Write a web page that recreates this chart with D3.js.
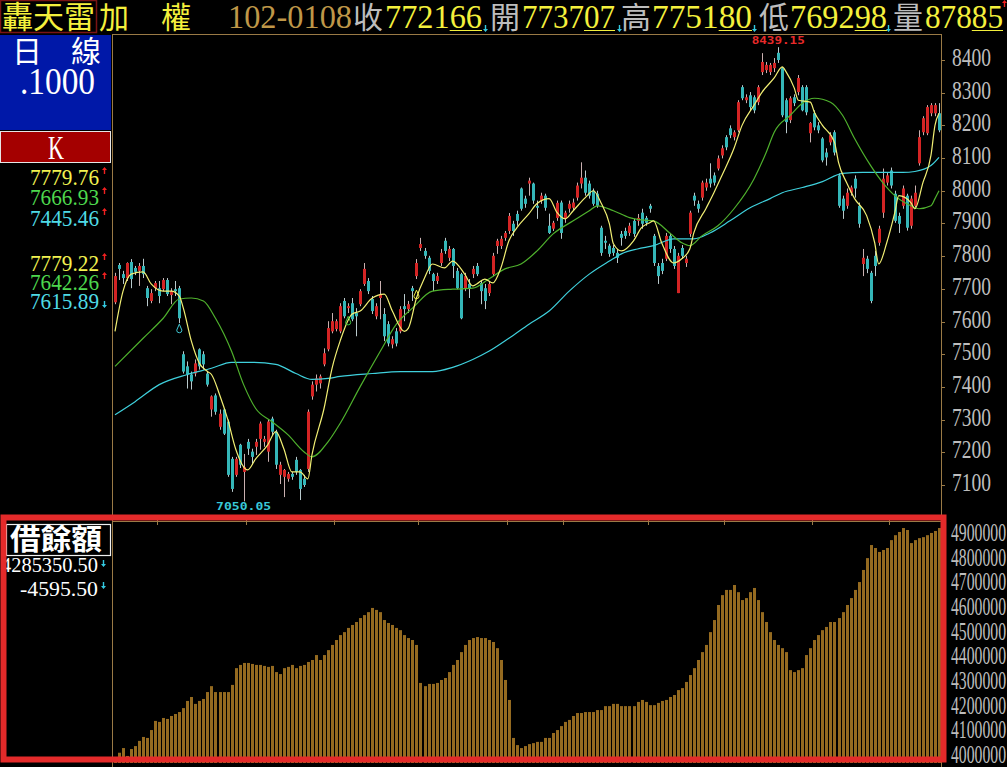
<!DOCTYPE html>
<html><head><meta charset="utf-8">
<script src="https://cdn.jsdelivr.net/npm/d3@7"></script>
<style>html,body{margin:0;padding:0;background:#000;overflow:hidden}svg{display:block}</style>
</head><body><svg id="c" width="1007" height="767"></svg>
<script>
// ---------------- DATA ----------------
const ohlc = [
[7659,7749,7653,7739],[7773,7779,7727,7761],[7745,7755,7715,7733],[7733,7781,7724,7779],[7782,7791,7702,7730],
[7764,7770,7742,7752],[7755,7779,7709,7770],[7770,7792,7733,7745],[7702,7709,7647,7672],[7663,7699,7656,7687],
[7702,7724,7693,7718],[7702,7724,7656,7678],[7699,7733,7693,7727],[7727,7733,7678,7684],[7681,7702,7653,7693],
[7699,7724,7678,7693],[7702,7709,7595,7610],[7500,7509,7441,7447],[7463,7478,7395,7438],[7438,7447,7392,7417],
[7441,7484,7432,7472],[7515,7518,7453,7463],[7500,7509,7453,7469],[7441,7447,7401,7407],[7331,7374,7309,7371],
[7374,7380,7315,7324],[7278,7331,7269,7318],[7331,7334,7253,7257],[7294,7300,7125,7131],[7180,7186,7079,7088],
[7131,7186,7125,7180],[7223,7226,7152,7162],[7140,7195,7050.05,7155],[7232,7241,7192,7211],[7202,7211,7162,7186],
[7217,7241,7192,7232],[7241,7294,7208,7288],[7232,7250,7217,7241],[7202,7300,7171,7294],[7303,7309,7253,7263],
[7263,7269,7149,7162],[7131,7171,7103,7162],[7125,7149,7063,7146],[7119,7140,7110,7134],[7134,7140,7116,7125],
[7177,7186,7131,7140],[7146,7149,7054,7088],[7119,7131,7094,7100],[7149,7331,7140,7324],[7371,7417,7361,7407],
[7407,7438,7386,7426],[7411,7438,7395,7432],[7469,7518,7463,7503],[7515,7601,7509,7580],[7570,7626,7564,7601],
[7577,7607,7570,7601],[7570,7656,7564,7647],[7663,7672,7610,7616],[7641,7656,7626,7647],[7656,7672,7601,7607],
[7626,7641,7555,7616],[7653,7699,7647,7693],[7715,7779,7709,7761],[7724,7733,7684,7693],[7669,7678,7623,7632],
[7616,7656,7607,7647],[7672,7724,7607,7684],[7623,7641,7540,7555],[7592,7601,7524,7533],[7530,7555,7518,7546],
[7570,7580,7524,7533],[7570,7647,7564,7638],[7647,7684,7601,7638],[7638,7663,7626,7653],[7702,7709,7663,7693],
[7739,7791,7730,7779],[7825,7856,7816,7837],[7816,7825,7792,7801],[7795,7801,7745,7755],[7745,7749,7693,7724],
[7724,7749,7715,7739],[7779,7822,7770,7810],[7847,7856,7807,7816],[7795,7831,7785,7822],[7822,7825,7733,7770],
[7755,7764,7699,7702],[7745,7749,7607,7610],[7702,7749,7693,7739],[7715,7730,7672,7702],[7745,7770,7733,7761],
[7770,7779,7739,7745],[7718,7724,7653,7693],[7702,7715,7638,7663],[7687,7724,7678,7715],[7745,7810,7739,7801],
[7831,7853,7807,7847],[7831,7862,7822,7853],[7856,7877,7847,7871],[7877,7932,7868,7923],[7899,7908,7862,7877],
[7929,7939,7893,7908],[8007,8010,7939,7945],[7976,7985,7948,7960],[8022,8040,7985,8031],[8022,8025,7960,7970],
[7954,7970,7914,7948],[7970,7994,7960,7985],[7985,7991,7939,7948],[7893,7930,7868,7871],[7884,7908,7877,7902],
[7917,7970,7908,7963],[7964,7970,7853,7871],[7914,7939,7902,7933],[7945,7970,7933,7960],[7948,7976,7939,7964],
[7979,8025,7970,8016],[8022,8087,8007,8040],[8040,8062,7985,7994],[8022,8031,7976,7985],[8000,8007,7954,7960],
[7991,8000,7948,7954],[7887,7893,7801,7810],[7847,7862,7822,7841],[7832,7838,7798,7807],[7825,7834,7801,7810],
[7810,7822,7779,7795],[7868,7877,7832,7856],[7877,7887,7853,7862],[7871,7902,7862,7893],[7908,7914,7859,7868],
[7908,7929,7893,7917],[7933,7945,7884,7899],[7917,7923,7893,7902],[7954,7960,7933,7945],[7862,7868,7770,7779],
[7770,7779,7715,7739],[7779,7792,7745,7755],[7792,7871,7785,7862],[7862,7871,7810,7822],[7822,7831,7761,7770],
[7687,7810,7687,7801],[7825,7834,7792,7801],[7779,7801,7767,7792],[7868,7939,7859,7933],[7985,7994,7954,7970],
[7960,7970,7933,7945],[7979,8031,7970,8025],[8010,8037,8000,8025],[8037,8084,8010,8022],[8047,8056,8016,8025],
[8068,8108,8062,8099],[8108,8139,8099,8130],[8164,8170,8124,8133],[8191,8200,8161,8170],[8164,8185,8154,8179],
[8185,8277,8179,8271],[8317,8323,8277,8283],[8277,8295,8268,8286],[8292,8302,8246,8256],[8286,8292,8237,8246],
[8271,8323,8262,8317],[8363,8421,8354,8394],[8369,8394,8360,8385],[8363,8391,8354,8385],[8375,8406,8363,8391],
[8422,8439.15,8391,8400],[8375,8378,8225,8231],[8277,8283,8176,8210],[8216,8289,8207,8283],[8286,8295,8259,8268],
[8302,8354,8292,8345],[8317,8323,8243,8246],[8317,8323,8231,8240],[8176,8210,8148,8207],[8237,8246,8185,8194],
[8200,8210,8176,8185],[8160,8164,8087,8093],[8117,8130,8077,8102],[8148,8179,8139,8170],[8179,8185,8108,8117],
[8047,8053,7948,7954],[7976,7985,7914,7939],[7954,8007,7945,7994],[7994,8016,7985,8010],[8037,8047,7979,8007],
[7954,7964,7887,7899],[7776,7822,7739,7795],[7792,7801,7748,7761],[7749,7755,7656,7663],[7801,7816,7739,7770],
[7841,7893,7832,7884],[7933,8068,7917,8037],[8025,8056,8016,8047],[8062,8071,8007,8016],[7991,8000,7902,7908],
[7923,7933,7871,7899],[7954,8016,7945,8007],[7985,7991,7878,7887],[7893,7985,7884,7976],[7954,8016,7945,7994],
[8084,8185,8077,8164],[8179,8228,8170,8222],[8176,8262,8170,8256],[8237,8268,8228,8262],[8237,8268,8228,8262],
[8237,8268,8179,8185]
];
const openP  = ohlc.map(d => d[0]);
const highP  = ohlc.map(d => d[1]);
const lowP   = ohlc.map(d => d[2]);
const closeP = ohlc.map(d => d[3]);

// moving averages: [day index, value]
const maYellow = [[0,7570],[2,7693],[4,7745],[7,7752],[9,7715],[12,7693],[14,7693],[16,7678],[17,7641],[19,7540],[21,7472],[23,7447],[24,7438],[26,7377],[28,7303],[30,7211],[33,7146],[35,7180],[38,7223],[40,7263],[42,7211],[44,7140],[46,7140],[48,7119],[49,7192],[52,7334],[54,7457],[56,7540],[59,7623],[61,7632],[64,7672],[67,7684],[69,7632],[72,7570],[73,7580],[75,7672],[77,7733],[79,7776],[82,7764],[84,7785],[87,7745],[89,7709],[90,7715],[92,7730],[94,7718],[96,7764],[98,7847],[100,7887],[103,7930],[105,7961],[108,7976],[110,7933],[112,7914],[114,7939],[117,7979],[119,8000],[121,7961],[123,7899],[124,7838],[126,7816],[129,7847],[131,7887],[133,7902],[134,7908],[136,7841],[139,7779],[141,7792],[143,7822],[144,7871],[147,7945],[149,7994],[151,8047],[154,8130],[156,8200],[159,8262],[161,8302],[164,8345],[166,8379],[167,8363],[169,8314],[170,8277],[173,8271],[174,8240],[176,8200],[179,8148],[180,8087],[182,8025],[184,7976],[187,7924],[189,7841],[190,7776],[192,7841],[194,7933],[195,7985],[198,7964],[199,7945],[201,8025],[203,8108],[204,8200],[205,8237]];
const maGreen = [[0,7463],[7,7549],[12,7610],[16,7669],[19,7672],[22,7663],[25,7610],[29,7509],[32,7407],[35,7334],[39,7294],[43,7254],[47,7202],[49,7186],[53,7232],[56,7288],[61,7401],[66,7509],[70,7592],[74,7641],[79,7693],[84,7699],[89,7702],[93,7730],[97,7761],[101,7776],[105,7816],[109,7868],[114,7908],[118,7939],[120,7954],[124,7939],[128,7918],[131,7911],[134,7908],[138,7871],[141,7841],[143,7832],[146,7862],[150,7893],[154,7945],[159,8037],[162,8117],[164,8179],[168,8231],[171,8268],[174,8283],[178,8271],[181,8231],[184,8160],[188,8077],[191,8025],[194,7985],[198,7954],[200,7945],[203,7954],[204,7976],[205,8000]];
const maCyan = [[0,7315],[5,7355],[11,7407],[18,7438],[24,7457],[29,7475],[34,7475],[40,7469],[45,7441],[49,7423],[53,7426],[56,7432],[64,7441],[71,7447],[79,7447],[84,7460],[89,7484],[93,7509],[98,7549],[103,7592],[108,7632],[113,7693],[118,7745],[123,7785],[126,7807],[130,7822],[134,7832],[139,7853],[144,7853],[148,7871],[153,7908],[158,7948],[163,7976],[166,7994],[171,8010],[176,8028],[181,8053],[186,8056],[191,8056],[196,8056],[199,8059],[203,8077],[205,8102]];

// margin balance (thousands)
const margin = [3976,3997,4016,3984,4012,4024,4045,4061,4057,4089,4126,4122,4138,4134,4146,4154,4162,4178,4207,4223,
4195,4207,4215,4243,4267,4243,4243,4243,4243,4272,4340,4353,4361,4361,4357,4353,4353,4349,4345,4349,
4324,4316,4340,4345,4353,4340,4349,4353,4365,4373,4393,4373,4393,4413,4434,4454,4474,4486,4503,4515,
4527,4543,4555,4567,4584,4576,4567,4535,4523,4515,4503,4494,4474,4462,4454,4434,4280,4267,4276,4276,
4280,4292,4300,4324,4353,4373,4405,4434,4454,4462,4466,4462,4462,4454,4446,4421,4373,4292,4211,4057,
4028,4016,4024,4032,4036,4041,4041,4057,4057,4077,4089,4105,4122,4130,4146,4158,4158,4162,4162,4162,
4170,4170,4186,4186,4195,4195,4186,4186,4186,4186,4203,4211,4203,4190,4190,4199,4207,4211,4223,4231,
4251,4259,4284,4312,4340,4373,4405,4434,4486,4535,4596,4636,4657,4657,4677,4648,4616,4624,4648,4665,
4616,4567,4527,4486,4454,4434,4421,4405,4332,4324,4332,4340,4393,4421,4454,4474,4494,4507,4527,4527,
4543,4567,4596,4624,4657,4689,4738,4786,4839,4827,4811,4819,4827,4859,4879,4892,4908,4900,4847,4859,
4867,4871,4879,4888,4896,4908];

const priceTicks  = [8400,8300,8200,8100,8000,7900,7800,7700,7600,7500,7400,7300,7200,7100];
const marginTicks = [4900,4800,4700,4600,4500,4400,4300,4200,4100,4000];
const monthStarts = [11,33,55,76,98,112,133,152,174,193];
const markers = [{i:16,p:7592,c:"#3fc6d2"},{i:58,p:7616,c:"#3cc23c"},{i:75,p:7696,c:"#e8e840"}];
const maLegend1 = [["7779.76","#f2f250","up"],["7666.93","#4ed84e","up"],["7445.46","#4fdbe6","up"]];
const maLegend2 = [["7779.22","#f2f250","up"],["7642.26","#4ed84e","up"],["7615.89","#4fdbe6","down"]];
const quote = [["收","772166","66"],["開","773707","07"],["高","775180","80"],["低","769298","98"],["量","87885","85"]];
const hiLabel = "8439.15", loLabel = "7050.05";

// ---------------- DRAW ----------------
const svg = d3.select("#c");
const N = closeP.length;
const TAN = "#9a7a46", GRAY = "#bdbdbd", YEL = "#f4f03c";
const SERIF = "Liberation Serif", CJK = "'Noto Sans CJK TC','Noto Sans CJK SC',sans-serif";

svg.append("rect").attr("width",1007).attr("height",767).attr("fill","#000");

const xi = d3.scaleLinear().domain([0, N-1]).range([115, 939]);
const y  = d3.scaleLinear().domain([7100, 8400]).range([485, 60]);
const yb = d3.scaleLinear().domain([4000, 4900]).range([752, 530]);

function txt(x, yy, s, o) {
  const t = svg.append("text").attr("x", x).attr("y", yy).text(s)
    .attr("font-family", o.font || SERIF).attr("font-size", o.size).attr("fill", o.fill);
  if (o.len) t.attr("textLength", o.len).attr("lengthAdjust", "spacingAndGlyphs");
  if (o.weight) t.attr("font-weight", o.weight);
  if (o.anchor) t.attr("text-anchor", o.anchor);
  return t;
}
// one text element made of positioned runs
function runs(parent, list) {
  const t = parent.append("text");
  list.forEach(r => {
    const s = t.append("tspan").attr("x", r.x).attr("y", r.y).text(r.s)
      .attr("font-family", r.font || SERIF).attr("font-size", r.size).attr("fill", r.fill);
    if (r.len) s.attr("textLength", r.len).attr("lengthAdjust", "spacingAndGlyphs");
    if (r.weight) s.attr("font-weight", r.weight);
  });
  return t;
}
function arrow(x, yy, dir, color) {
  const p = dir === "up"
    ? `M${x+2.5},${yy} L${x+5},${yy+3} L${x+3.2},${yy+3} L${x+3.2},${yy+7} L${x+1.8},${yy+7} L${x+1.8},${yy+3} L${x},${yy+3} Z`
    : `M${x+2.5},${yy+7} L${x+5},${yy+4} L${x+3.2},${yy+4} L${x+3.2},${yy} L${x+1.8},${yy} L${x+1.8},${yy+4} L${x},${yy+4} Z`;
  svg.append("path").attr("d", p).attr("fill", color);
}

// ---- header ----
svg.append("rect").attr("x",0.5).attr("y",0.5).attr("width",96).attr("height",32)
  .attr("fill","none").attr("stroke","#7a1414").attr("stroke-width",1.5);
const hdr = [
  {x:2, y:28, s:"轟天雷", font:CJK, size:31, fill:YEL, len:93},
  {x:99, y:28, s:"加", font:CJK, size:30, fill:YEL},
  {x:161, y:28, s:"權", font:CJK, size:30, fill:YEL},
  {x:228, y:28, s:"102-0108", size:34, fill:"#bf9748", len:124}
];
const qx = [[353,385,97,483],[490,522,93,617],[621,652,100,752],[759,790,97,886],[893,925,78,1002]];
quote.forEach((q, k) => {
  const [cx, nx, nl] = qx[k];
  hdr.push({x:cx, y:28, s:q[0], font:CJK, size:30, fill:GRAY});
  hdr.push({x:nx, y:28, s:q[1], size:34, fill:YEL, len:nl});
});
runs(svg, hdr);
quote.forEach((q, k) => {
  const [cx, nx, nl, ax] = qx[k];
  const ul = nl * q[2].length / q[1].length;
  svg.append("line").attr("x1", nx + nl - ul).attr("x2", nx + nl).attr("y1", 30.5).attr("y2", 30.5)
    .attr("stroke", YEL).attr("stroke-width", 1);
  if (k < 4) arrow(ax, 25, "down", "#33c9e0"); else arrow(ax, 0, "up", "#f02020");
});

// ---- left panel ----
svg.append("rect").attr("x",0).attr("y",35).attr("width",111).attr("height",95).attr("fill","#0018a8");
runs(svg, [
  {x:12, y:62, s:"日", font:CJK, size:30, fill:"#fff"},
  {x:71, y:62, s:"線", font:CJK, size:30, fill:"#fff"}
]);
txt(20, 94, ".1000", {size:37, fill:"#fff", len:75});
svg.append("rect").attr("x",0.5).attr("y",131.5).attr("width",110).attr("height",31)
  .attr("fill","#a40000").attr("stroke","#e6e6e6").attr("stroke-width",1);
txt(48, 159, "K", {size:33, fill:"#fff", len:16});
[[maLegend1, [185,205,226]], [maLegend2, [271,290,309]]].forEach(([leg, ys]) => {
  runs(svg, leg.map((d, k) => ({x:30, y:ys[k], s:d[0], size:24, fill:d[1], len:69})));
  leg.forEach((d, k) => {
    if (d[2] === "up") arrow(102, ys[k]-18, "up", "#f02020");
    else arrow(102, ys[k]-8, "down", "#33c9e0");
  });
});

// ---- frames ----
svg.append("line").attr("x1",112).attr("x2",942).attr("y1",34.5).attr("y2",34.5).attr("stroke",TAN);
svg.append("line").attr("x1",112.5).attr("x2",112.5).attr("y1",35).attr("y2",767).attr("stroke",TAN);
svg.append("line").attr("x1",941.5).attr("x2",941.5).attr("y1",35).attr("y2",767).attr("stroke",TAN);
svg.append("line").attr("x1",112).attr("x2",942).attr("y1",521.5).attr("y2",521.5).attr("stroke",TAN);
monthStarts.forEach(m => {
  const mx = Math.round(xi(m) - 2) + 0.5;
  svg.append("line").attr("x1",mx).attr("x2",mx).attr("y1",517).attr("y2",525).attr("stroke",TAN);
});

// price axis
priceTicks.forEach(v => {
  svg.append("line").attr("x1",941).attr("x2",945).attr("y1",Math.round(y(v))+0.5).attr("y2",Math.round(y(v))+0.5).attr("stroke",TAN);
  txt(952, y(v) + 6, String(v), {size:26, fill:GRAY, len:39});
});
// margin axis
marginTicks.forEach(v => {
  txt(951, yb(v) + 11, String(v*1000), {size:26, fill:GRAY, len:55});
});

// ---- candles ----
const plot = svg.append("g");
d3.range(N).forEach(i => {
  const cx = Math.round(xi(i));
  const up = closeP[i] >= openP[i];
  const col = up ? "#d42424" : "#34b6b8";
  plot.append("line").attr("x1", cx+0.5).attr("x2", cx+0.5)
    .attr("y1", y(highP[i])).attr("y2", y(lowP[i]))
    .attr("stroke", up ? "#c9b0b0" : "#b9c9cc").attr("stroke-width", 1);
  const top = y(Math.max(openP[i], closeP[i])), bot = y(Math.min(openP[i], closeP[i]));
  plot.append("rect").attr("x", cx-1).attr("width", 3)
    .attr("y", top).attr("height", Math.max(1.5, bot - top)).attr("fill", col);
});

// ---- moving averages ----
const lineGen = d3.line().x(d => xi(d[0])).y(d => y(d[1])).curve(d3.curveMonotoneX);
[[maCyan,"#3fd0dc"],[maGreen,"#4fb12d"],[maYellow,"#f2ef74"]].forEach(([d, c]) => {
  plot.append("path").attr("d", lineGen(d)).attr("fill","none").attr("stroke", c).attr("stroke-width", 1.2);
});

// markers
markers.forEach(m => {
  const cx = xi(m.i), t = y(m.p);
  svg.append("path").attr("d", `M${cx},${t} L${cx+2.6},${t+6} A2.6,2.6 0 1 1 ${cx-2.6},${t+6} Z`)
    .attr("fill","none").attr("stroke", m.c).attr("stroke-width", 1);
});

// extreme labels
const hiIdx = highP.indexOf(d3.max(highP)), loIdx = lowP.indexOf(d3.min(lowP));
txt(xi(hiIdx), 44, hiLabel, {font:"DejaVu Sans Mono", size:11, fill:"#e82a2a", weight:"bold", anchor:"middle", len:53});
txt(xi(loIdx), 510, loLabel, {font:"DejaVu Sans Mono", size:11, fill:"#38c8d8", weight:"bold", anchor:"middle", len:55});

// ---- margin bars ----
d3.range(margin.length).forEach(i => {
  const cx = Math.round(xi(i));
  svg.append("rect").attr("x", cx-1).attr("width", 3)
    .attr("y", yb(margin[i])).attr("height", 763 - yb(margin[i])).attr("fill", "#946a20");
});

// ---- bottom-left panel ----
svg.append("rect").attr("x",6.5).attr("y",524.5).attr("width",104).attr("height",31)
  .attr("fill","#000").attr("stroke","#f0f0f0").attr("stroke-width",1.2);
txt(10, 550, "借餘額", {font:CJK, size:29, fill:"#fff", weight:"bold", len:92});
runs(svg, [
  {x:1, y:572, s:"4285350.50", size:20, fill:"#fff", len:97},
  {x:20, y:596, s:"-4595.50", size:20, fill:"#fff", len:78}
]);
arrow(101, 560, "down", "#33c9e0");
arrow(101, 582, "down", "#33c9e0");

// ---- red annotation frame ----
svg.append("rect").attr("x",3.5).attr("y",517.5).attr("width",940).attr("height",242)
  .attr("fill","none").attr("stroke","#e42a2a").attr("stroke-width",6);
</script></body></html>
